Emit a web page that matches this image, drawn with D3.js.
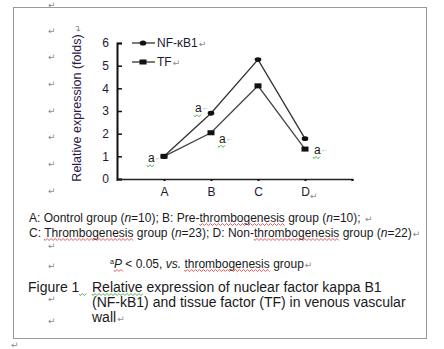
<!DOCTYPE html>
<html lang="en">
<head>
    <meta charset="UTF-8">
    <script src="https://d3js.org/d3.v7.min.js"></script>
    <title>Figure 1</title>
    <style>
        body { margin: 0; background: #fff; }
        svg { display: block; font-family: "Liberation Sans", Arial, sans-serif; }
        svg text { white-space: pre; }
        .mark { fill: #8a8a8a; font-family: "DejaVu Sans", sans-serif; font-size: 9px; }
    </style>
</head>
<body>
    <svg width="444" height="349"></svg>
    <script>
        const categories = ['A', 'B', 'C', 'D'];
        const nfkb1 = [1.0, 2.9, 5.27, 1.78];
        const tf = [1.0, 2.04, 4.11, 1.32];
        const yTicks = [0, 1, 2, 3, 4, 5, 6];
        // significance marks: series and group index
        const sigMarks = [
            { series: 'nf', i: 0, dx: -16, dy: 2 },
            { series: 'nf', i: 1, dx: -16, dy: -5 },
            { series: 'tf', i: 1, dx: 8, dy: 6 },
            { series: 'tf', i: 3, dx: 9, dy: 1 }
        ];
        const paraMarkY = [5, 31, 57, 84, 111, 137, 164, 191, 246, 266, 299, 321];

        const svg = d3.select('svg');

        // frame
        svg.append('rect')
            .attr('x', 13.5).attr('y', 7.5)
            .attr('width', 413).attr('height', 331)
            .attr('fill', 'none').attr('stroke', '#9a9a9a');

        const mark = (x, y) => svg.append('text').attr('class', 'mark')
            .attr('x', x).attr('y', y).text('\u21B5');

        paraMarkY.forEach(y => mark(48, y + 3));
        mark(11, 348);

        const x = d3.scaleLinear().domain([0, 5]).range([117, 352]);
        const y = d3.scaleLinear().domain([0, 6]).range([179, 43]);

        // y axis
        const yAxis = svg.append('g')
            .attr('transform', `translate(${x(0)},0)`)
            .call(d3.axisRight(y).tickValues(yTicks).tickSize(5).tickFormat(d3.format('d')));
        yAxis.select('.domain').attr('stroke', '#111').attr('stroke-width', 2);
        yAxis.selectAll('.tick line').attr('stroke', '#111').attr('stroke-width', 1.5);
        yAxis.selectAll('.tick text')
            .attr('x', -8).attr('text-anchor', 'end')
            .attr('font-size', 12).attr('font-family', 'Liberation Sans, Arial, sans-serif')
            .attr('fill', '#1a1a33');

        // x axis
        const xAxis = svg.append('g')
            .attr('transform', `translate(0,${y(0)})`)
            .call(d3.axisBottom(x).tickValues([1, 2, 3, 4, 5]).tickSize(2)
                .tickFormat(d => categories[d - 1] || ''));
        xAxis.select('.domain').attr('stroke', '#222').attr('stroke-width', 1.5);
        xAxis.selectAll('.tick line').attr('stroke', '#111').attr('stroke-width', 2);
        xAxis.selectAll('.tick text')
            .attr('y', 8)
            .attr('font-size', 12).attr('font-family', 'Liberation Sans, Arial, sans-serif')
            .attr('fill', '#1a1a33');
        mark(x(4) + 5, y(0) + 20);

        const line = d3.line().x((d, i) => x(i + 1)).y(d => y(d));

        svg.append('path').datum(tf)
            .attr('d', line).attr('fill', 'none')
            .attr('stroke', '#444').attr('stroke-width', 1.3);
        svg.append('path').datum(nfkb1)
            .attr('d', line).attr('fill', 'none')
            .attr('stroke', '#333').attr('stroke-width', 1.3);

        svg.selectAll('.sq').data(tf).enter().append('rect')
            .attr('x', (d, i) => x(i + 1) - 3.5).attr('y', d => y(d) - 2.5)
            .attr('width', 7).attr('height', 5).attr('fill', '#111');
        svg.selectAll('.dot').data(nfkb1).enter().append('ellipse')
            .attr('cx', (d, i) => x(i + 1)).attr('cy', d => y(d))
            .attr('rx', 3.3).attr('ry', 2.4).attr('fill', '#111');

        // wavy underline helper
        function wave(x0, x1, yy, color) {
            let d = `M${x0},${yy}`;
            for (let p = x0; p < x1; p += 2) {
                d += ` L${p + 1},${yy + (((p - x0) / 2) % 2 === 0 ? 1.5 : -0.5)}`;
            }
            svg.append('path').attr('d', d).attr('fill', 'none')
                .attr('stroke', color).attr('stroke-width', 0.8);
        }

        // significance 'a'
        sigMarks.forEach(s => {
            const v = s.series === 'nf' ? nfkb1[s.i] : tf[s.i];
            const px = x(s.i + 1) + s.dx, py = y(v) + s.dy;
            svg.append('text').attr('x', px).attr('y', py + 4)
                .attr('font-size', 12).attr('fill', '#1a1a1a').text('a');
            svg.append('text').attr('x', px + 7).attr('y', py + 2)
                .attr('font-size', 7).attr('fill', '#999').text('\u2190');
            wave(px - 1, px + 7, py + 7, '#2a9a2a');
        });

        // legend
        const legend = [
            { name: 'NF-\u03BAB1', shape: 'dot' },
            { name: 'TF', shape: 'sq' }
        ];
        legend.forEach((l, i) => {
            const ly = 43 + i * 19;
            svg.append('line').attr('x1', 132).attr('x2', 155)
                .attr('y1', ly).attr('y2', ly)
                .attr('stroke', '#333').attr('stroke-width', 1.3);
            if (l.shape === 'dot') {
                svg.append('ellipse').attr('cx', 143).attr('cy', ly)
                    .attr('rx', 3.3).attr('ry', 2.6).attr('fill', '#111');
            } else {
                svg.append('rect').attr('x', 139.5).attr('y', ly - 2.5)
                    .attr('width', 7).attr('height', 5).attr('fill', '#111');
            }
            const t = svg.append('text').attr('x', 157).attr('y', ly + 4)
                .attr('font-size', 12).attr('fill', '#1a1a33').text(l.name);
            mark(157 + t.node().getComputedTextLength() + 1, ly + 4);
        });

        // y label
        svg.append('text')
            .attr('transform', 'translate(81,108) rotate(-90)')
            .attr('text-anchor', 'middle')
            .attr('font-size', 12.5).attr('fill', '#2a1a4a')
            .text('Relative expression (folds)');
        svg.append('text').attr('class', 'mark')
            .attr('transform', 'translate(81,32) rotate(-90)')
            .text('\u21B5');

        // caption text with italic parts
        function richLine(xx, yy, size, parts, trailMark) {
            const t = svg.append('text').attr('x', xx).attr('y', yy)
                .attr('font-size', size).attr('fill', '#1a1a1a');
            parts.forEach(p => {
                const ts = t.append('tspan').text(p.t);
                if (p.i) ts.attr('font-style', 'italic');
                if (p.sup) ts.attr('font-size', size * 0.6).attr('dy', -4);
                if (p.down) ts.attr('dy', 4);
            });
            const node = t.node();
            const n = node.getNumberOfChars();
            parts.forEach((p, k) => {
                if (!p.wavy) return;
                const start = parts.slice(0, k).map(q => q.t).join('').length;
                const end = Math.min(start + p.t.length - 1, n - 1);
                const a = node.getExtentOfChar(start);
                const b = node.getExtentOfChar(end);
                wave(a.x, b.x + b.width, yy + 2, p.wavy);
            });
            if (trailMark) {
                const last = node.getExtentOfChar(n - 1);
                mark(last.x + last.width + 1, yy);
            }
            return t;
        }

        richLine(29, 222, 12, [
            { t: 'A: Oontrol group (' }, { t: 'n', i: true }, { t: '=10); B: Pre-' },
            { t: 'thrombogenesis', wavy: '#d33' }, { t: ' group (' }, { t: 'n', i: true },
            { t: '=10); ' }
        ], true);
        richLine(29, 237, 12, [
            { t: 'C: ' }, { t: 'Thrombogenesis', wavy: '#d33' }, { t: ' group (' },
            { t: 'n', i: true }, { t: '=23); D: Non-' }, { t: 'thrombogenesis', wavy: '#d33' },
            { t: ' group (' }, { t: 'n', i: true }, { t: '=22)' }
        ], true);
        richLine(110, 268, 12, [
            { t: 'a', sup: true }, { t: 'P', i: true, down: true, wavy: '#d33' }, { t: ' < 0.05, ' },
            { t: 'vs.', i: true }, { t: ' ' }, { t: 'thrombogenesis', wavy: '#d33' }, { t: ' group' }
        ], true);

        richLine(28, 292, 14, [{ t: 'Figure 1' }, { t: '  ', wavy: '#2a9a2a' }]);
        richLine(92, 292, 14, [{ t: 'Relative', wavy: '#2a9a2a' },
            { t: ' expression of nuclear factor kappa B1' }]);
        richLine(92, 307, 14, [{ t: '(NF-kB1) and tissue factor (TF) in venous vascular' }]);
        richLine(92, 322, 14, [{ t: 'wall' }], true);
    </script>
</body>
</html>
